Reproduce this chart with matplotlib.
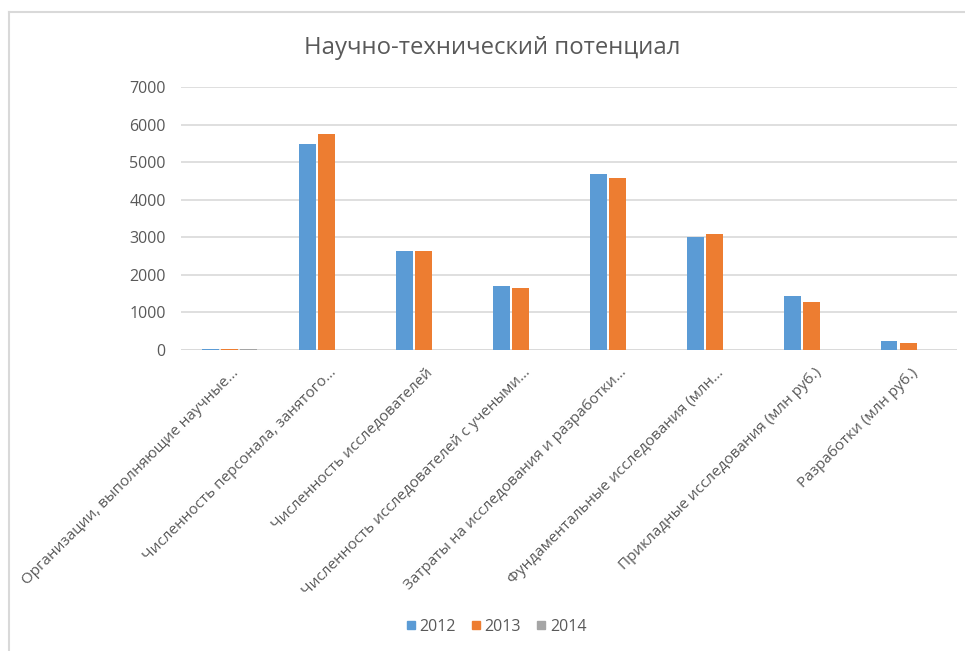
import numpy as np
import matplotlib.pyplot as plt
import matplotlib.transforms as mtransforms
from matplotlib.lines import Line2D

plt.rcParams['font.family'] = ['Open Sans', 'DejaVu Sans']

# data
categories = [
    'Организации, выполняющие научные...',
    'Численность персонала, занятого...',
    'Численность исследователей',
    'Численность исследователей с учеными...',
    'Затраты на исследования и разработки...',
    'Фундаментальные исследования (млн...',
    'Прикладные исследования (млн руб.)',
    'Разработки (млн руб.)',
]
years = ['2012', '2013', '2014']
v2012 = [35, 5480, 2630, 1690, 4690, 3010, 1440, 235]
v2013 = [36, 5740, 2630, 1660, 4590, 3090, 1280, 190]
v2014 = [34, 0, 0, 0, 0, 0, 0, 0]
colors = ['#5b9bd5', '#ed7d31', '#a5a5a5']
txt = '#595959'

fig = plt.figure(figsize=(9.65, 6.51), dpi=100)
ax = fig.add_axes([0.1876, 0.4624, 0.804, 0.404])

x = np.arange(len(categories))
w = 0.175
for i, (vals, c) in enumerate(zip([v2012, v2013, v2014], colors)):
    ax.bar(x + (i - 1) * 0.2, vals, width=w, color=c, zorder=3)

ax.set_xlim(-0.5, len(categories) - 0.5)
ax.set_ylim(0, 7000)
ax.set_yticks(range(0, 7001, 1000))
ax.grid(axis='y', color='#d9d9d9', linewidth=1.2, zorder=0)
for s in ax.spines.values():
    s.set_visible(False)
ax.axhline(0, color='#d9d9d9', linewidth=1.2, zorder=1)
ax.tick_params(axis='both', length=0, colors=txt)
ax.tick_params(axis='y', pad=11, labelsize=11.5)
ax.set_xticks(x)
ax.set_xticklabels(categories, rotation=45, ha='right', va='top',
                   rotation_mode='anchor', color=txt, fontsize=11)
ax.tick_params(axis='x', pad=11)
shift = mtransforms.ScaledTranslation(2 / 100, 0, fig.dpi_scale_trans)
for lbl in ax.get_xticklabels():
    lbl.set_transform(lbl.get_transform() + shift)

fig.text(0.51, 0.926, 'Научно-технический потенциал', ha='center', va='center',
         fontsize=17.2, color=txt)

handles = [Line2D([], [], marker='s', linestyle='none', markersize=6,
                  color=c) for c in colors]
fig.legend(handles, years, loc='center', bbox_to_anchor=(0.514, 0.037),
           ncol=3, frameon=False, fontsize=11.5, labelcolor=txt,
           handlelength=0.6, handletextpad=0.25, columnspacing=0.95)

# chart frame (left and top edges visible)
fig.add_artist(Line2D([9 / 965, 9 / 965], [0, 1 - 12 / 651],
                      transform=fig.transFigure, color='#d9d9d9', linewidth=1.5))
fig.add_artist(Line2D([9 / 965, 1], [1 - 12 / 651, 1 - 12 / 651],
                      transform=fig.transFigure, color='#d9d9d9', linewidth=1.5))

fig.savefig('out.png', dpi=100)
